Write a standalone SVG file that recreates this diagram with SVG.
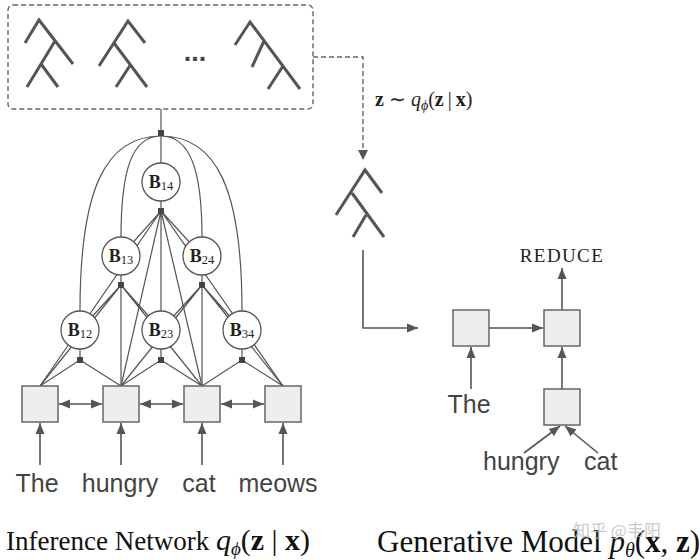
<svg xmlns="http://www.w3.org/2000/svg" width="700" height="560" viewBox="0 0 700 560">
<style>
.tree{fill:none;stroke:#555;stroke-width:3;stroke-linecap:butt}
.edge{fill:none;stroke:#555;stroke-width:1.2}
.circ{fill:#fff;stroke:#555;stroke-width:1.3}
.fac{fill:#444}
.box{fill:#eeeeee;stroke:#666;stroke-width:1.5}
.arr{fill:none;stroke:#555;stroke-width:1.6}
.dash{fill:none;stroke:#666;stroke-width:1.4;stroke-dasharray:5 3}
.word{font-family:"Liberation Sans",Arial,sans-serif;font-size:25px;fill:#444}
.bl{font-family:"Liberation Serif","Times New Roman",serif;font-size:18px;fill:#222;text-anchor:middle}
.cap{font-family:"Liberation Serif","Times New Roman",serif;fill:#111}
</style>
<defs>
<marker id="ah" markerUnits="userSpaceOnUse" markerWidth="12" markerHeight="10" refX="11" refY="5" orient="auto-start-reverse">
<path d="M0,0.5 L11,5 L0,9.5 z" fill="#555"/>
</marker>
</defs>

<!-- sampled trees box -->
<g id="tree-set">
<rect x="8" y="5" width="305" height="104" rx="5" class="dash"/>
<path class="tree" d="M25,43 L39,20 L73,64 M55,41 L27,87 M41,64 L58,87"/>
<path class="tree" d="M99,66 L128,21 L145,43 M114,43 L147,87 M131,64 L116,87"/>
<text x="195" y="61" text-anchor="middle" font-family="Liberation Sans,Arial,sans-serif" font-weight="bold" font-size="27" fill="#444">...</text>
<path class="tree" d="M235,45 L250,22 L300,89 M264,41 L252,67 M283,66 L268,89"/>
</g>

<!-- connectors -->
<g id="connectors">
<!-- top factor -->
<path class="edge" d="M161,109 V182"/>
<path class="edge" d="M161,136 C105,136 80,190 80,311 M161,136 C217,136 242,190 242,311 M161,136 C132,136 121,170 121,237 M161,136 C190,136 202,170 202,237"/>
<!-- B14 factor -->
<path class="edge" d="M161,182 V330 M161,211 L121,256 M161,211 L202,256 M161,211 L40,386 M161,211 L121,386 M161,211 L202,386 M161,211 L283,386"/>
<!-- B13 factor -->
<path class="edge" d="M121,256 V386 M121,285 L80,330 M121,285 L161,330 M121,285 L40,386 M121,285 L202,386"/>
<!-- B24 factor -->
<path class="edge" d="M202,256 V386 M202,285 L161,330 M202,285 L242,330 M202,285 L121,386 M202,285 L283,386"/>
<!-- bottom factors -->
<path class="edge" d="M80,330 V360 L40,386 M80,360 L121,386 M161,330 V360 L121,386 M161,360 L202,386 M242,330 V360 L202,386 M242,360 L283,386"/>
<!-- bi-directional arrows -->
<path class="arr" d="M59,404 H102" marker-start="url(#ah)" marker-end="url(#ah)"/>
<path class="arr" d="M140,404 H183" marker-start="url(#ah)" marker-end="url(#ah)"/>
<path class="arr" d="M221,404 H264" marker-start="url(#ah)" marker-end="url(#ah)"/>
<!-- word arrows -->
<path class="arr" d="M40,465 V423" marker-end="url(#ah)"/>
<path class="arr" d="M121,465 V423" marker-end="url(#ah)"/>
<path class="arr" d="M202,465 V423" marker-end="url(#ah)"/>
<path class="arr" d="M283,465 V423" marker-end="url(#ah)"/>
<!-- sampling dashed arrow -->
<path class="dash" d="M313,57 H363 V150"/>
<path d="M358,150 L368,150 L363,160 z" fill="#555"/>
<!-- elbow arrow -->
<path class="arr" d="M363,250 V328 H418" marker-end="url(#ah)"/>
<!-- generative arrows -->
<path class="arr" d="M489,328 H543" marker-end="url(#ah)"/>
<path class="arr" d="M562,310 V268" marker-end="url(#ah)"/>
<path class="arr" d="M471,389 V347" marker-end="url(#ah)"/>
<path class="arr" d="M562,389 V347" marker-end="url(#ah)"/>
<path class="arr" d="M524,453 L560,426" marker-end="url(#ah)"/>
<path class="arr" d="M598,453 L565,426" marker-end="url(#ah)"/>
</g>

<!-- factor squares -->
<g id="factors">
<rect class="fac" x="158" y="130" width="6" height="6"/>
<rect class="fac" x="158" y="208" width="6" height="6"/>
<rect class="fac" x="118" y="282" width="6" height="6"/>
<rect class="fac" x="199" y="282" width="6" height="6"/>
<rect class="fac" x="77" y="357" width="6" height="6"/>
<rect class="fac" x="158" y="357" width="6" height="6"/>
<rect class="fac" x="239" y="357" width="6" height="6"/>
</g>

<g id="B14"><circle class="circ" cx="161" cy="182" r="19"/><text class="bl" x="161" y="188"><tspan font-weight="bold">B</tspan><tspan font-size="12.5" dy="2">14</tspan></text></g>
<g id="B13"><circle class="circ" cx="121" cy="256" r="19"/><text class="bl" x="121" y="262"><tspan font-weight="bold">B</tspan><tspan font-size="12.5" dy="2">13</tspan></text></g>
<g id="B24"><circle class="circ" cx="202" cy="256" r="19"/><text class="bl" x="202" y="262"><tspan font-weight="bold">B</tspan><tspan font-size="12.5" dy="2">24</tspan></text></g>
<g id="B12"><circle class="circ" cx="80" cy="330" r="19"/><text class="bl" x="80" y="336"><tspan font-weight="bold">B</tspan><tspan font-size="12.5" dy="2">12</tspan></text></g>
<g id="B23"><circle class="circ" cx="161" cy="330" r="19"/><text class="bl" x="161" y="336"><tspan font-weight="bold">B</tspan><tspan font-size="12.5" dy="2">23</tspan></text></g>
<g id="B34"><circle class="circ" cx="242" cy="330" r="19"/><text class="bl" x="242" y="336"><tspan font-weight="bold">B</tspan><tspan font-size="12.5" dy="2">34</tspan></text></g>

<g id="enc1"><rect class="box" x="22" y="386" width="36" height="36"/></g>
<g id="enc2"><rect class="box" x="103" y="386" width="36" height="36"/></g>
<g id="enc3"><rect class="box" x="184" y="386" width="36" height="36"/></g>
<g id="enc4"><rect class="box" x="265" y="386" width="36" height="36"/></g>

<g id="words-inf">
<text class="word" x="37" y="492" text-anchor="middle">The</text>
<text class="word" x="120" y="492" text-anchor="middle">hungry</text>
<text class="word" x="199" y="492" text-anchor="middle">cat</text>
<text class="word" x="278" y="492" text-anchor="middle">meows</text>
</g>

<g id="sample-label">
<text x="375" y="106" font-family="Liberation Serif,Times New Roman,serif" font-size="20" fill="#222"><tspan font-weight="bold">z</tspan><tspan dx="5">∼</tspan><tspan dx="5" font-style="italic">q</tspan><tspan font-style="italic" font-size="14" dy="4">ϕ</tspan><tspan dy="-4">(</tspan><tspan font-weight="bold">z</tspan><tspan dx="4">|</tspan><tspan dx="4" font-weight="bold">x</tspan>)</text>
</g>

<g id="sampled-tree">
<path class="tree" d="M336,215 L365,170 L382,193 M352,193 L384,237 M366,215 L353,237"/>
</g>

<g id="gen1"><rect class="box" x="453" y="310" width="36" height="36"/></g>
<g id="gen2"><rect class="box" x="544" y="310" width="36" height="36"/></g>
<g id="gen3"><rect class="box" x="544" y="389" width="36" height="36"/></g>
<text x="562" y="262" text-anchor="middle" font-family="Liberation Serif,Times New Roman,serif" font-size="19" letter-spacing="1.4" fill="#222">REDUCE</text>
<text class="word" x="469" y="413" text-anchor="middle">The</text>
<text class="word" x="483" y="470">hungry</text>
<text class="word" x="584" y="470">cat</text>

<g id="captions">
<text class="cap" x="6" y="550" font-size="27">Inference Network <tspan font-style="italic" font-size="30">q</tspan><tspan font-style="italic" font-size="19" dy="5">ϕ</tspan><tspan dy="-5" font-size="30">(</tspan><tspan font-weight="bold" font-size="30">z</tspan><tspan font-size="30"> | </tspan><tspan font-weight="bold" font-size="30">x</tspan><tspan font-size="30">)</tspan></text>
<text class="cap" x="377" y="552" font-size="31">Generative Model <tspan font-style="italic">p</tspan><tspan font-style="italic" font-size="20" dy="5">θ</tspan><tspan dy="-5">(</tspan><tspan font-weight="bold">x</tspan>, <tspan font-weight="bold">z</tspan>)</text>
<text x="573" y="537" font-family="Noto Sans CJK SC,sans-serif" font-size="17" fill="#bbb" fill-opacity="0.8">知乎 @韦阳</text>
</g>
</svg>
